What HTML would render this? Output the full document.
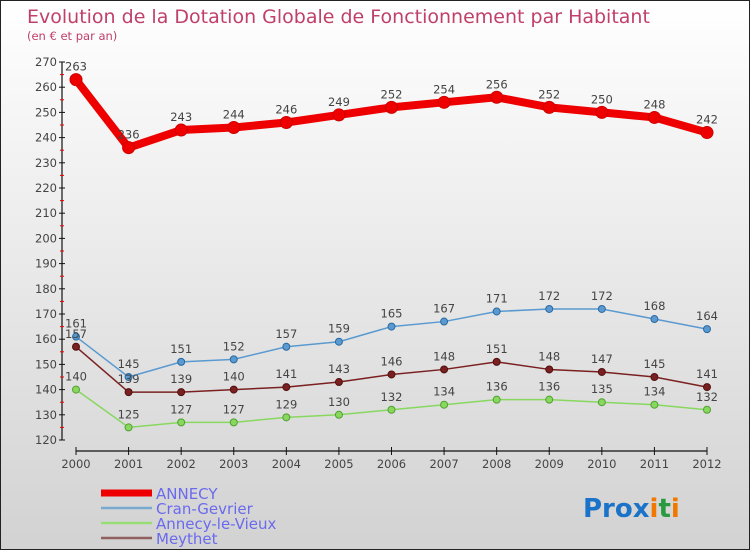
<!DOCTYPE html>
<html><head><meta charset="utf-8"><style>
body{margin:0;}
#c{width:750px;height:550px;position:relative;overflow:hidden;background:linear-gradient(#ffffff,#d2d2d2);box-sizing:border-box;border:1px solid #222;font-family:"DejaVu Sans","Liberation Sans",sans-serif;}
svg text{font-family:"DejaVu Sans","Liberation Sans",sans-serif;}
</style></head><body>
<div id="c">
<svg id="s" width="750" height="550" xmlns="http://www.w3.org/2000/svg">
<text x="26" y="22" font-size="19" fill="#c0406a">Evolution de la Dotation Globale de Fonctionnement par Habitant</text>
<text x="26" y="39" font-size="11.5" fill="#c0406a">(en € et par an)</text>
<g id="axes"></g><g id="series"></g><g id="legend"></g>
<text x="582" y="516" font-size="26" font-weight="bold"><tspan fill="#1a73c8">Pro</tspan><tspan fill="#1a73c8">x</tspan><tspan fill="#f07800">i</tspan><tspan fill="#2a9a40">t</tspan><tspan fill="#f07800">i</tspan></text>
</svg>
</div>
<script>
const years=["2000","2001","2002","2003","2004","2005","2006","2007","2008","2009","2010","2011","2012"];
const annecy=[263,236,243,244,246,249,252,254,256,252,250,248,242];
const cran=[161,145,151,152,157,159,165,167,171,172,172,168,164];
const alv=[140,125,127,127,129,130,132,134,136,136,135,134,132];
const meythet=[157,139,139,140,141,143,146,148,151,148,147,145,141];
const yTicks=[120,130,140,150,160,170,180,190,200,210,220,230,240,250,260,270];
const NS="http://www.w3.org/2000/svg";
function X(i){return 75+i*(706-75)/(years.length-1);}
function Y(v){return 439-(v-120)*(378/150);}
function mk(t,a,p){const e=document.createElementNS(NS,t);for(const k in a)e.setAttribute(k,a[k]);p.appendChild(e);return e;}
const ax=document.getElementById('axes');
let yl=mk('line',{x1:61,y1:Y(270),x2:61,y2:Y(120),stroke:'#111','stroke-width':1.2},ax);


yTicks.forEach(v=>{
 mk('line',{x1:58,y1:Y(v),x2:64,y2:Y(v),stroke:'#111'},ax);
 if(v<270)mk('line',{x1:59,y1:Y(v+5),x2:63,y2:Y(v+5),stroke:'#e00'},ax);
 const t=mk('text',{x:56,y:Y(v)+4,'text-anchor':'end','font-size':11.5,fill:'#444'},ax);t.textContent=v;
 
 
});
let xl=mk('line',{x1:X(0),y1:450,x2:X(12),y2:450,stroke:'#111','stroke-width':1.2},ax);


years.forEach((y,i)=>{
 mk('line',{x1:X(i),y1:446,x2:X(i),y2:454,stroke:'#111'},ax);
 const t=mk('text',{x:X(i),y:467,'text-anchor':'middle','font-size':11.5,fill:'#444'},ax);t.textContent=y;
 
 
});
const sg=document.getElementById('series');
function series(name,data,color,w,r,dark){
 const g=mk('g',{},sg);
 
 
 mk('polyline',{points:data.map((v,i)=>X(i)+','+Y(v)).join(' '),fill:'none',stroke:color,'stroke-width':w,'stroke-linejoin':'round'},g);
 data.forEach((v,i)=>{
  const c=mk('circle',{cx:X(i),cy:Y(v),r:r,fill:color,stroke:dark,'stroke-width':1},g);
  
  
  const t=mk('text',{x:X(i),y:Y(v)-9,'text-anchor':'middle','font-size':11.5,fill:'#444'},g);t.textContent=v;
  
  
 });
}
series('annecy',annecy,'#ee0000',8,6,'#cc0000');
series('cran-gevrier',cran,'#5a9ad0',1.5,3.5,'#2a6aa0');
series('meythet',meythet,'#7a2020',1.5,3.5,'#501010');
series('annecy-le-vieux',alv,'#88d860',1.5,3.5,'#50a030');
const lg=document.getElementById('legend');
const leg=[["ANNECY","#ee0000",7],["Cran-Gevrier","#7aaad0",2.5],["Annecy-le-Vieux","#99dd77",2.5],["Meythet","#906060",2.5]];
leg.forEach((l,i)=>{
 const y=492+i*15;
 const g=mk('g',{},lg);
 
 
 mk('line',{x1:100,y1:y,x2:151,y2:y,stroke:l[1],'stroke-width':l[2]},g);
 const t=mk('text',{x:155,y:y+6,'font-size':15,fill:'#6a6aee'},g);t.textContent=l[0];
});
</script>
</body></html>
